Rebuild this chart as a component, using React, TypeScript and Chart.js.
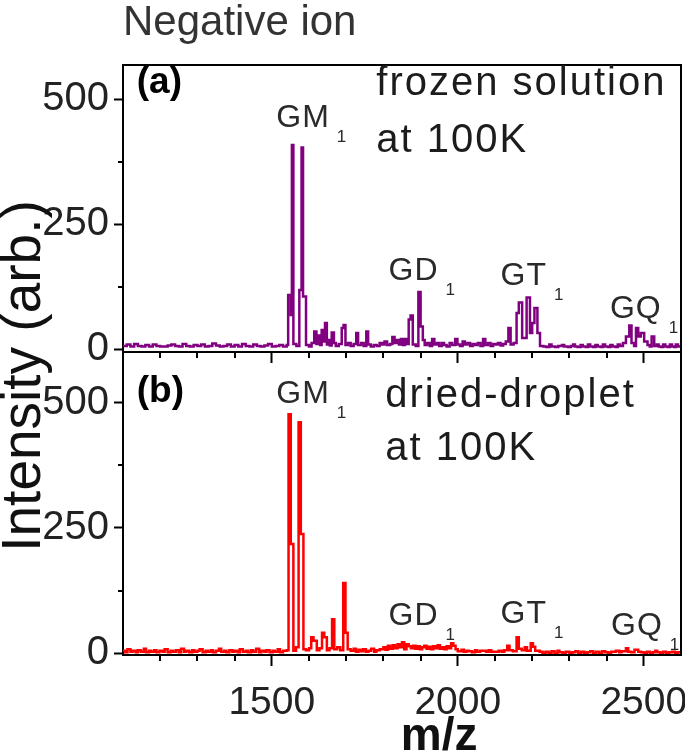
import React, { useEffect, useRef } from 'react';
import { Chart, registerables } from 'chart.js';
Chart.register(...registerables);

// ---------- axis definitions ----------
const MZ_MIN = 1100;
const MZ_MAX = 2600;
const xMajorTicks = [1500, 2000, 2500];
const xMinorTicks = [1200, 1300, 1400, 1600, 1700, 1800, 1900, 2100, 2200, 2300, 2400];
const yMajorTicks = [0, 250, 500];
const yMinorTicks = [125, 375];

// ---------- panel (a): frozen solution at 100K ----------
const mzA = [
  1100, 1110, 1120, 1130, 1140, 1150, 1160, 1170, 1180, 1190,
  1200, 1210, 1220, 1230, 1240, 1250, 1260, 1270, 1280, 1290,
  1300, 1310, 1320, 1330, 1340, 1350, 1360, 1370, 1380, 1390,
  1400, 1410, 1420, 1430, 1440, 1450, 1460, 1470, 1480, 1490,
  1500, 1510, 1520, 1530,
  1540, 1544, 1551, 1554, 1558, 1566, 1574, 1580, 1584, 1592,
  1600, 1607, 1614, 1620, 1625, 1630, 1634, 1639, 1643, 1648,
  1652, 1656, 1661, 1667, 1672, 1680, 1688, 1693, 1698, 1705,
  1712, 1720, 1727, 1732, 1740, 1747, 1754, 1759, 1766, 1774,
  1782, 1790, 1797, 1803, 1810, 1818, 1824, 1830, 1836, 1842,
  1847, 1852, 1858, 1864, 1868, 1873, 1879, 1887, 1894, 1900,
  1906, 1911, 1918, 1925, 1931, 1937, 1944, 1950, 1957, 1963,
  1970, 1978, 1985, 1993, 1999, 2006, 2013, 2019, 2026, 2033,
  2040, 2047, 2054, 2061, 2068, 2074, 2081, 2088, 2095, 2102,
  2108, 2115, 2122, 2129, 2136, 2142, 2150, 2158, 2164, 2173,
  2185, 2194, 2200, 2206, 2214, 2221, 2230, 2238, 2246, 2252,
  2262, 2270, 2280, 2286, 2296, 2304, 2310, 2315, 2322, 2330,
  2336, 2344, 2350, 2356, 2364, 2370, 2376, 2384, 2390, 2396,
  2404, 2410, 2416, 2424, 2430, 2436, 2444, 2452, 2461, 2467,
  2474, 2479, 2485, 2492, 2501, 2510, 2516, 2521, 2528, 2535,
  2540, 2546, 2552, 2558, 2564, 2570, 2576, 2582, 2586, 2592,
  2600,
];
const intA = [
  6, 9, 5, 10, 6, 5, 8, 5, 9, 6,
  5, 5, 7, 9, 6, 5, 10, 6, 5, 8,
  6, 9, 5, 6, 11, 7, 5, 6, 9, 5,
  8, 5, 10, 6, 5, 9, 6, 5, 7, 10,
  5, 6, 8, 5,
  8, 108, 68, 408, 10, 6, 118, 403, 105, 8,
  5, 12, 35, 10, 27, 8, 38, 15, 52, 9,
  18, 7, 33, 12, 6, 10, 42, 48, 8, 12,
  6, 10, 32, 8, 12, 6, 35, 9, 5, 8,
  6, 12, 9, 15, 8, 10, 24, 12, 18, 9,
  20, 8, 20, 10, 59, 67, 9, 6, 114, 45,
  18, 8, 12, 6, 20, 9, 12, 6, 12, 8,
  5, 12, 8, 20, 9, 6, 15, 9, 12, 6,
  10, 8, 12, 6, 20, 8, 12, 6, 10, 9,
  12, 7, 10, 15, 42, 9, 12, 72, 93, 22,
  103, 32, 52, 82, 32, 6, 5, 4, 9, 5,
  4, 6, 8, 5, 4, 6, 9, 5, 4, 8,
  5, 4, 9, 5, 4, 8, 5, 4, 9, 5,
  4, 8, 5, 4, 9, 6, 12, 25, 47, 12,
  6, 42, 25, 32, 15, 8, 5, 25, 6, 9,
  5, 4, 9, 5, 4, 9, 5, 4, 9, 5,
  5,
];

// ---------- panel (b): dried-droplet at 100K ----------
const mzB = [
  1100, 1106, 1112, 1120, 1126, 1134, 1140, 1148, 1156, 1162,
  1170, 1176, 1184, 1190, 1198, 1206, 1212, 1220, 1228, 1234,
  1242, 1250, 1256, 1264, 1270, 1278, 1286, 1292, 1300, 1306,
  1314, 1322, 1328, 1336, 1342, 1350, 1358, 1364, 1372, 1378,
  1386, 1394, 1400, 1408, 1414, 1422, 1430, 1436, 1444, 1450,
  1458, 1466, 1472, 1480, 1486, 1494, 1502, 1508, 1516, 1522,
  1530,
  1540, 1545, 1551, 1558, 1565, 1572, 1578, 1585, 1592, 1600,
  1606, 1612, 1621, 1628, 1635, 1641, 1648, 1655, 1662, 1668,
  1676, 1684, 1692, 1698, 1704, 1712, 1720, 1726, 1733, 1740,
  1746, 1753, 1760, 1767, 1775, 1781, 1790, 1800, 1806, 1812,
  1818, 1825, 1831, 1838, 1844, 1850, 1856, 1862, 1868, 1874,
  1880, 1886, 1892, 1898, 1904, 1910, 1916, 1922, 1928, 1934,
  1940, 1946, 1952, 1958, 1964, 1970, 1976, 1982, 1988, 1994,
  2000, 2010, 2016, 2023, 2030, 2038, 2046, 2052, 2060, 2070,
  2076, 2083, 2090, 2100, 2110, 2118, 2125, 2133, 2139, 2148,
  2158, 2164, 2172, 2180, 2186, 2196, 2202, 2208, 2220, 2228,
  2236, 2244, 2252, 2260, 2268, 2273, 2282, 2290, 2300, 2308,
  2316, 2324, 2332, 2340, 2348, 2356, 2364, 2372, 2380, 2388,
  2396, 2404, 2412, 2425, 2434, 2440, 2452, 2458, 2466, 2475,
  2485, 2492, 2500, 2508, 2516, 2524, 2531, 2536, 2544, 2552,
  2560, 2568, 2576, 2584, 2592, 2600,
];
const intB = [
  5, 2, 8, 3, 5, 2, 6, 3, 9, 2,
  5, 3, 6, 2, 5, 3, 8, 2, 5, 3,
  6, 2, 9, 3, 5, 2, 6, 3, 5, 8,
  2, 5, 3, 6, 2, 5, 9, 3, 5, 2,
  6, 3, 5, 2, 8, 3, 5, 2, 6, 3,
  9, 2, 5, 3, 6, 2, 5, 3, 8, 2,
  5,
  6, 477, 218, 5, 12, 461, 238, 8, 6, 10,
  32, 25, 6, 10, 41, 32, 6, 10, 68, 8,
  12, 6, 140, 41, 8, 5, 9, 3, 7, 4,
  8, 3, 5, 9, 3, 6, 8, 12, 7, 15,
  9, 16, 10, 18, 12, 22, 8, 18, 14, 10,
  15, 9, 14, 8, 12, 15, 9, 13, 8, 14,
  10, 16, 9, 12, 8, 14, 10, 20, 15, 8,
  4, 7, 3, 5, 4, 2, 6, 3, 5, 5,
  3, 6, 3, 3, 5, 3, 6, 15, 6, 4,
  32, 9, 6, 12, 5, 20, 13, 5, 3, 1,
  3, 1, 4, 1, 5, 2, 1, 3, 1, 2,
  4, 1, 3, 1, 2, 4, 1, 3, 1, 4,
  2, 1, 3, 5, 2, 4, 10, 3, 2, 7,
  3, 2, 1, 3, 1, 2, 5, 2, 1, 3,
  1, 2, 3, 1, 2, 2,
];

// ---------- annotation text (anchored in data coordinates) ----------
const peakLabelsA = [
  { text: 'GM', sub: '1', mz: 1512, val: 444 },
  { text: 'GD', sub: '1', mz: 1814, val: 138 },
  { text: 'GT', sub: '1', mz: 2115, val: 128 },
  { text: 'GQ', sub: '1', mz: 2409, val: 62 },
];
const peakLabelsB = [
  { text: 'GM', sub: '1', mz: 1512, val: 499 },
  { text: 'GD', sub: '1', mz: 1814, val: 56 },
  { text: 'GT', sub: '1', mz: 2115, val: 60 },
  { text: 'GQ', sub: '1', mz: 2412, val: 36 },
];
const notesA = [
  { text: '(a)', mz: 1137, val: 513, bold: true },
  { text: 'frozen solution', mz: 1781, val: 508, bold: false },
  { text: 'at 100K', mz: 1781, val: 394, bold: false },
];
const notesB = [
  { text: '(b)', mz: 1137, val: 502, bold: true },
  { text: 'dried-droplet', mz: 1805, val: 491, bold: false },
  { text: 'at 100K', mz: 1805, val: 386, bold: false },
];
const xTitle = { text: 'm/z', mz: 1950 };
const yTitle = 'Intensity (arb.)';

const FONT = "'Liberation Sans', Arial, sans-serif";
const TEXT = '#1c1c1c';

function setSpacing(ctx: any, px: number) {
  try { ctx.letterSpacing = `${px}px`; } catch (e) { /* ignore */ }
}

const decorPlugin = {
  id: 'decor',
  afterDraw(chart: any, _args: any, opts: any) {
    const { ctx, chartArea: a, scales } = chart;
    const xs = scales.x;
    const ys = scales.y;
    ctx.save();
    ctx.strokeStyle = '#000';
    ctx.lineWidth = 2;
    ctx.beginPath();
    if (opts.drawTop) {
      ctx.moveTo(a.left - 1, a.top);
      ctx.lineTo(a.right, a.top);
    } else {
      ctx.moveTo(a.right, a.top - 2);
    }
    ctx.lineTo(a.right, a.bottom + 1);
    ctx.stroke();
    // minor ticks
    ctx.beginPath();
    for (const v of xMinorTicks) {
      const px = Math.round(xs.getPixelForValue(v));
      ctx.moveTo(px, a.bottom);
      ctx.lineTo(px, a.bottom + 6);
    }
    for (const v of yMinorTicks) {
      const py = Math.round(ys.getPixelForValue(v));
      ctx.moveTo(a.left, py);
      ctx.lineTo(a.left - 5, py);
    }
    ctx.stroke();

    ctx.textAlign = 'left';
    ctx.textBaseline = 'alphabetic';
    for (const n of opts.notes || []) {
      if (n.bold) {
        ctx.font = `bold 37px ${FONT}`;
        ctx.fillStyle = '#000';
        setSpacing(ctx, 0);
      } else {
        ctx.font = `40px ${FONT}`;
        ctx.fillStyle = TEXT;
        setSpacing(ctx, 2);
      }
      ctx.fillText(n.text, xs.getPixelForValue(n.mz), ys.getPixelForValue(n.val));
    }
    ctx.fillStyle = '#2a2a2a';
    for (const p of opts.peaks || []) {
      const px = xs.getPixelForValue(p.mz);
      const py = ys.getPixelForValue(p.val);
      ctx.font = `32px ${FONT}`;
      setSpacing(ctx, 1);
      ctx.fillText(p.text, px, py);
      const w = ctx.measureText(p.text).width;
      setSpacing(ctx, 0);
      ctx.font = `17px ${FONT}`;
      ctx.fillText(p.sub, px + w + 7, py + 15);
    }
    setSpacing(ctx, 0);
    if (opts.showXTitle) {
      ctx.font = `bold 46px ${FONT}`;
      ctx.fillStyle = '#111';
      ctx.textAlign = 'center';
      ctx.fillText(xTitle.text, xs.getPixelForValue(xTitle.mz), a.bottom + 95);
    }
    if (opts.showYTitle) {
      ctx.save();
      ctx.translate(a.left - 98, 376);
      ctx.rotate(-Math.PI / 2);
      ctx.font = `55px ${FONT}`;
      ctx.fillStyle = '#111';
      ctx.textAlign = 'center';
      ctx.textBaseline = 'middle';
      ctx.fillText(yTitle, 0, 0);
      ctx.restore();
    }
    ctx.restore();
  },
};

function makeConfig(
  mz: number[], vals: number[], color: string,
  yMin: number, yMax: number, panel: 'a' | 'b',
): any {
  const isA = panel === 'a';
  return {
    type: 'line',
    data: {
      datasets: [{
        data: mz.map((x, i) => ({ x, y: vals[i] })),
        borderColor: color,
        borderWidth: 2.5,
        pointRadius: 0,
        stepped: true,
        fill: false,
        borderJoinStyle: 'miter',
      }],
    },
    plugins: [decorPlugin],
    options: {
      animation: false,
      responsive: false,
      events: [],
      layout: {
        padding: isA
          ? { top: 0, right: 4, left: 0, bottom: 392 }
          : { top: 354, right: 4, left: 0, bottom: 0 },
      },
      plugins: {
        legend: { display: false },
        tooltip: { enabled: false },
        title: {
          display: isA,
          text: 'Negative ion',
          align: 'start',
          fullSize: false,
          color: '#333',
          font: { family: FONT, size: 42, weight: 'normal', lineHeight: 1 },
          padding: { top: 2, bottom: 21 },
        },
        decor: {
          drawTop: isA,
          peaks: isA ? peakLabelsA : peakLabelsB,
          notes: isA ? notesA : notesB,
          showXTitle: !isA,
          showYTitle: !isA,
        },
      },
      scales: {
        x: {
          type: 'linear',
          min: MZ_MIN,
          max: MZ_MAX,
          afterBuildTicks: (s: any) => { s.ticks = xMajorTicks.map((v) => ({ value: v })); },
          afterFit: (s: any) => {
            s.height = isA ? 10 : 99;
            s.paddingLeft = 0;
            s.paddingRight = 0;
          },
          ticks: {
            display: !isA,
            autoSkip: false,
            maxRotation: 0,
            padding: 14,
            color: '#222',
            font: { family: FONT, size: 39 },
            callback: (v: any) => String(v),
          },
          grid: {
            drawOnChartArea: false,
            drawTicks: true,
            tickLength: 11,
            tickWidth: 2,
            tickColor: '#000',
          },
          border: { display: true, color: '#000', width: 2 },
        },
        y: {
          type: 'linear',
          min: yMin,
          max: yMax,
          afterBuildTicks: (s: any) => { s.ticks = yMajorTicks.map((v) => ({ value: v })); },
          afterFit: (s: any) => {
            s.width = 123;
            s.paddingTop = 0;
            s.paddingBottom = 0;
          },
          ticks: {
            padding: 5,
            color: '#222',
            font: { family: FONT, size: 40 },
            callback: (v: any) => String(v),
          },
          grid: {
            drawOnChartArea: false,
            drawTicks: true,
            tickLength: 9,
            tickWidth: 2,
            tickColor: '#000',
          },
          border: { display: true, color: '#000', width: 2 },
        },
      },
    },
  };
}

export default function App() {
  const refA = useRef<HTMLCanvasElement>(null);
  const refB = useRef<HTMLCanvasElement>(null);
  useEffect(() => {
    const ca = new Chart(refA.current!, makeConfig(mzA, intA, '#800080', -6, 568, 'a'));
    const cb = new Chart(refB.current!, makeConfig(mzB, intB, '#ff0000', -3.5, 597, 'b'));
    return () => { ca.destroy(); cb.destroy(); };
  }, []);
  const cs: React.CSSProperties = { position: 'absolute', left: 0, top: 0, width: 685, height: 754 };
  return (
    <div style={{ position: 'absolute', left: 0, top: 0, width: 685, height: 754, background: '#fff' }}>
      <canvas ref={refA} width={685} height={754} style={cs} />
      <canvas ref={refB} width={685} height={754} style={cs} />
    </div>
  );
}
